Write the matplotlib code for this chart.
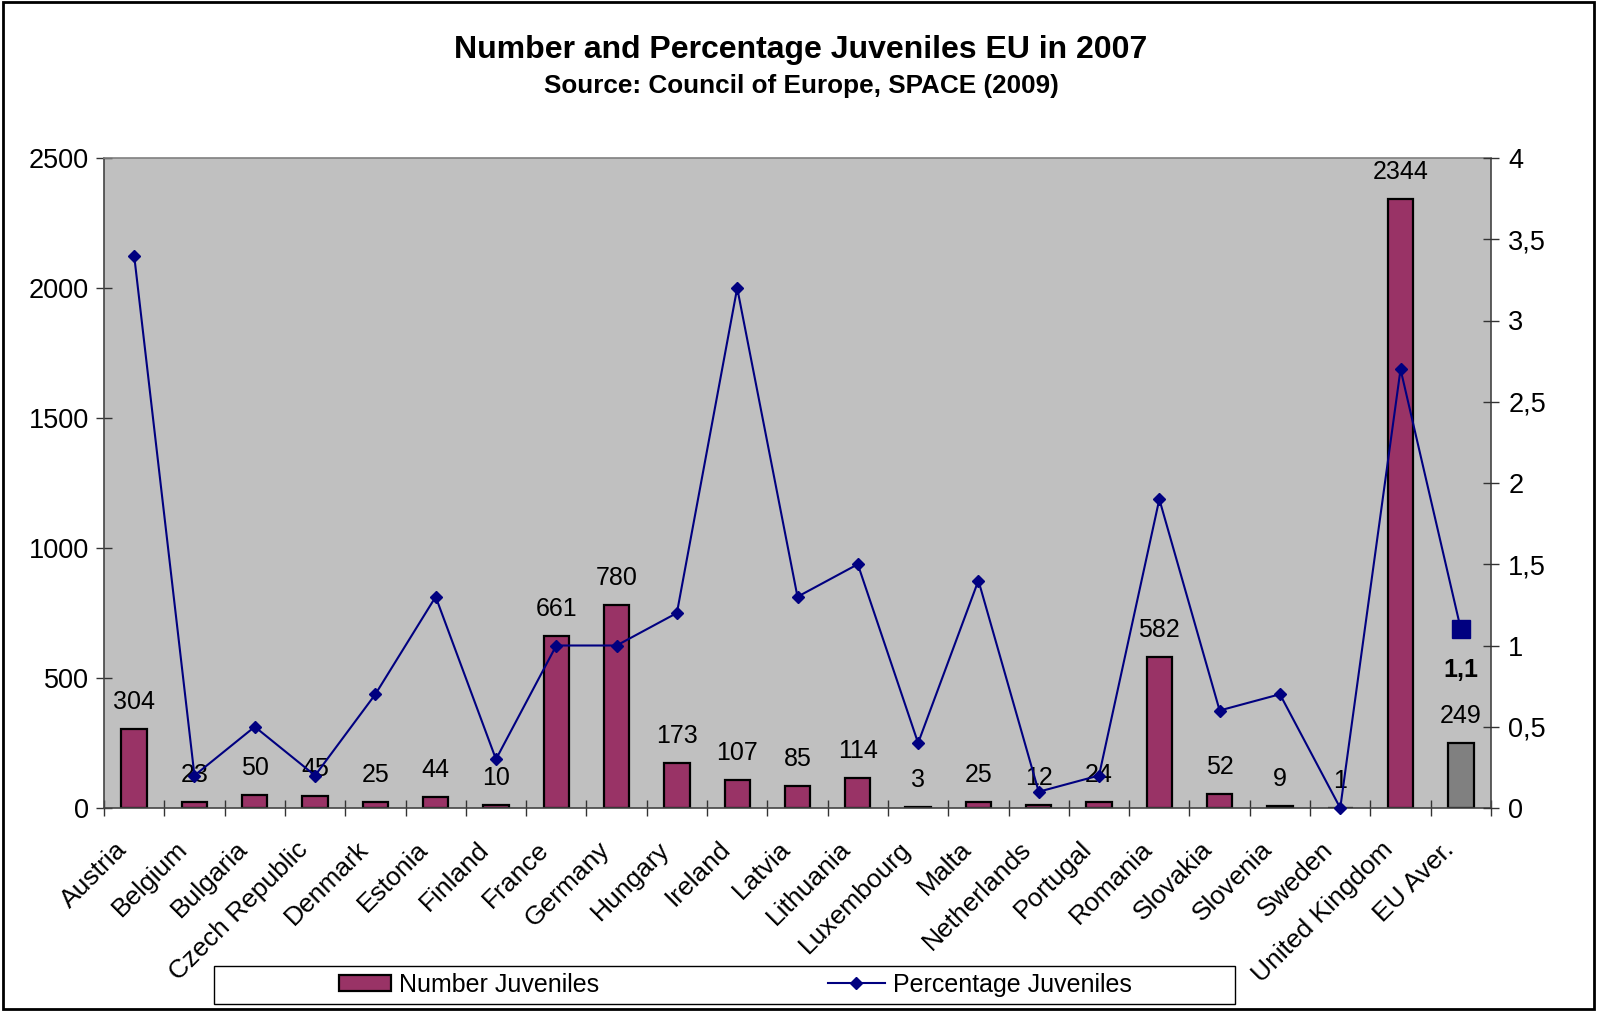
import matplotlib
matplotlib.use("Agg")
import matplotlib.pyplot as plt
from matplotlib.patches import Rectangle, Patch
from matplotlib.lines import Line2D
from matplotlib.transforms import ScaledTranslation
from matplotlib.ticker import FixedLocator, FuncFormatter

plt.rcParams["font.family"] = ["Liberation Sans", "DejaVu Sans"]

countries = ["Austria", "Belgium", "Bulgaria", "Czech Republic", "Denmark",
             "Estonia", "Finland", "France", "Germany", "Hungary", "Ireland",
             "Latvia", "Lithuania", "Luxembourg", "Malta", "Netherlands",
             "Portugal", "Romania", "Slovakia", "Slovenia", "Sweden",
             "United Kingdom", "EU Aver."]
juveniles = [304, 23, 50, 45, 25, 44, 10, 661, 780, 173, 107, 85, 114, 3,
             25, 12, 24, 582, 52, 9, 1, 2344, 249]
percentage = [3.4, 0.2, 0.5, 0.2, 0.7, 1.3, 0.3, 1.0, 1.0, 1.2, 3.2, 1.3,
              1.5, 0.4, 1.4, 0.1, 0.2, 1.9, 0.6, 0.7, 0.0, 2.7, 1.1]
left_ticks = [0, 500, 1000, 1500, 2000, 2500]
right_ticks = [0, 0.5, 1, 1.5, 2, 2.5, 3, 3.5, 4]

W, H = 1597, 1011
fig = plt.figure(figsize=(W / 100, H / 100), dpi=100)
fig.patch.set_facecolor("white")

# outer chart frame
fig.patches.append(Rectangle((3 / W, 2 / H), (1594 - 3) / W, (1009 - 2) / H,
                             transform=fig.transFigure, fill=False,
                             edgecolor="black", linewidth=2.0))

ax = fig.add_axes([104 / W, 1 - 808 / H, (1491 - 104) / W, (808 - 158) / H])
ax.set_facecolor("#C0C0C0")

n = len(countries)
xs = list(range(n))
colors = ["#993366"] * (n - 1) + ["#808080"]
ax.bar(xs, juveniles, width=0.42, color=colors, edgecolor="black",
       linewidth=1.6, zorder=2)
ax.set_xlim(-0.5, n - 0.5)
ax.set_ylim(0, 2500)

for x, v in zip(xs, juveniles):
    ax.annotate(str(v), (x, v), xytext=(0, 14.4), textcoords="offset points",
                ha="center", va="baseline", fontsize=18, zorder=5)

ax.yaxis.set_major_locator(FixedLocator(left_ticks))
ax.tick_params(axis="y", direction="inout", length=11, width=1.0,
               labelsize=19.5, pad=5.5, color="#333333")

# category labels at bar centres, tick marks at category boundaries
ax.set_xticks(xs)
ax.set_xticklabels(countries, rotation=45, ha="right", va="center",
                   rotation_mode="anchor", fontsize=19)
ax.tick_params(axis="x", which="major", length=0, pad=27)
ax.set_xticks([i - 0.5 for i in range(n + 1)], minor=True)
ax.tick_params(axis="x", which="minor", direction="inout", length=11,
               width=1.0, color="#333333")
shift = ScaledTranslation(-11 / 100, 0, fig.dpi_scale_trans)
for lab in ax.get_xticklabels():
    lab.set_transform(lab.get_transform() + shift)

for side in ["left", "bottom", "right"]:
    ax.spines[side].set_color("#444444")
    ax.spines[side].set_linewidth(1.2)
ax.spines["top"].set_color("#808080")
ax.spines["top"].set_linewidth(1.2)

ax2 = ax.twinx()
ax2.set_ylim(0, 4)
ax2.plot(xs, percentage, color="#000080", linewidth=1.5, marker="D",
         markersize=6.5, markerfacecolor="#000080",
         markeredgecolor="#000080", clip_on=False, zorder=4)
ax2.plot([xs[-1]], [percentage[-1]], linestyle="none", marker="s",
         markersize=12.5, color="#000080", clip_on=False, zorder=5)
ax2.annotate("1,1", (xs[-1], percentage[-1]), xytext=(0, -34.5),
             textcoords="offset points", ha="center", va="baseline",
             fontsize=18, fontweight="bold")
ax2.yaxis.set_major_locator(FixedLocator(right_ticks))
ax2.yaxis.set_major_formatter(
    FuncFormatter(lambda v, p: ("%g" % v).replace(".", ",")))
ax2.tick_params(axis="y", direction="inout", length=11, width=1.0,
                labelsize=19.5, pad=7, color="#333333")
for side in ["left", "bottom", "right", "top"]:
    ax2.spines[side].set_visible(False)

fig.text(0.5015, 1 - 58 / H, "Number and Percentage Juveniles EU in 2007",
         ha="center", va="baseline", fontsize=23, fontweight="bold")
fig.text(0.5015, 1 - 93 / H, "Source: Council of Europe, SPACE (2009)",
         ha="center", va="baseline", fontsize=18.8, fontweight="bold")

# legend box with two centred entries
fig.patches.append(Rectangle((214 / W, 1 - 1004 / H), (1235 - 214) / W,
                             (1004 - 966) / H, transform=fig.transFigure,
                             fill=True, facecolor="white",
                             edgecolor="black", linewidth=1.0))
bar_handle = Patch(facecolor="#993366", edgecolor="black", linewidth=1.6)
line_handle = Line2D([], [], color="#000080", linewidth=1.5, marker="D",
                     markersize=6.5)
ycen = 1 - 985 / H
fig.legend([bar_handle], ["Number Juveniles"], loc="center",
           bbox_to_anchor=((214 + 724.5) / 2 / W, ycen), frameon=False,
           fontsize=18, handlelength=2.07, handleheight=0.64,
           handletextpad=0.32, borderpad=0, borderaxespad=0)
fig.legend([line_handle], ["Percentage Juveniles"], loc="center",
           bbox_to_anchor=((724.5 + 1235) / 2 / W, ycen), frameon=False,
           fontsize=18, handlelength=2.28, handletextpad=0.32,
           borderpad=0, borderaxespad=0)

fig.savefig("out.png", dpi=100)
